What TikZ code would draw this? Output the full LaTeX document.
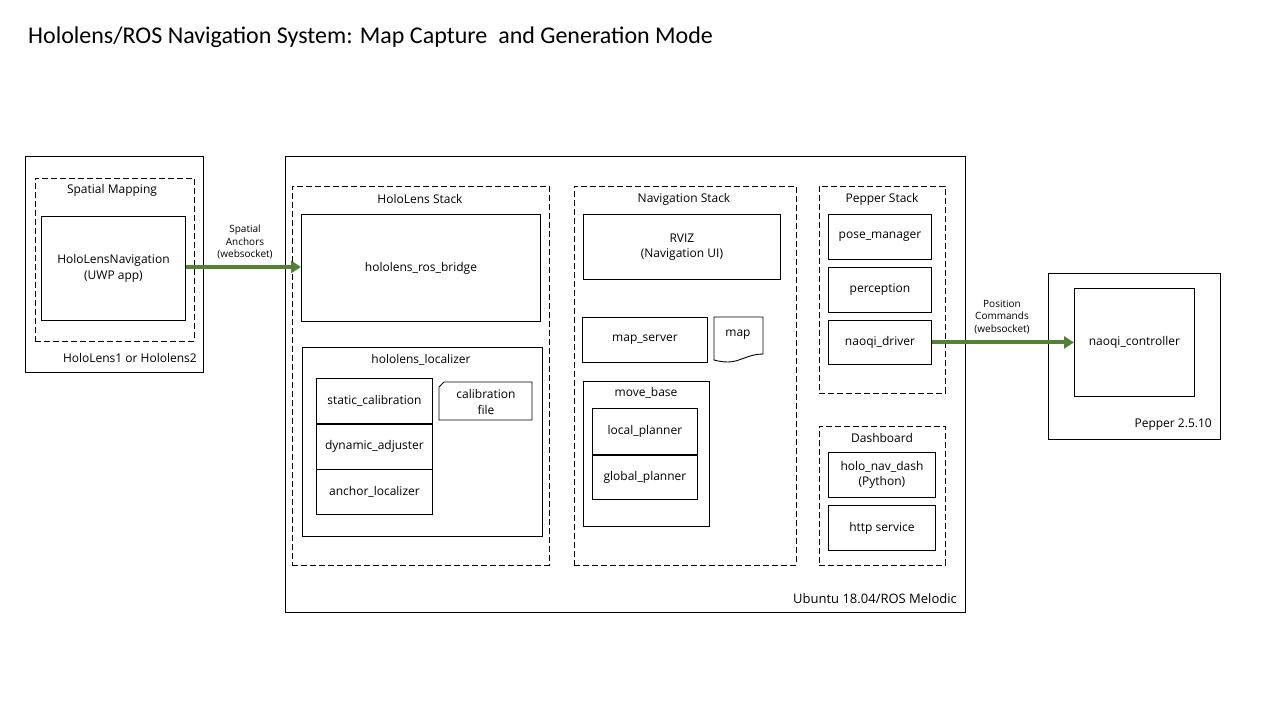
\documentclass[tikz,border=0pt]{standalone}
\usepackage{fontspec}
\setmainfont{Open Sans}
\newfontfamily\titlefont{Carlito}
\usetikzlibrary{arrows.meta}
\definecolor{arrowgreen}{HTML}{548235}
\tikzset{
  box/.style={draw=black, line width=0.9pt, fill=white, anchor=north west, inner sep=0pt, align=center, font=\fontsize{12}{15.5}\selectfont},
  dbox/.style={draw=black, line width=0.9pt, dash pattern=on 6pt off 3pt, anchor=north west, inner sep=0pt},
  lbl/.style={font=\fontsize{12}{15.5}\selectfont, inner sep=0pt, align=center},
  alb/.style={font=\fontsize{10}{12.5}\selectfont, inner sep=0pt, align=center},
  flow/.style={draw=arrowgreen, line width=4pt, -{Triangle[length=10pt,width=12pt]}},
}
\newcommand{\bx}[6][box]{\node[#1, minimum width=#4pt, minimum height=#5pt] (#2) at (#3) {#6};}
\begin{document}
\begin{tikzpicture}[x=1pt,y=-1pt]
\useasboundingbox (0,0) rectangle (1280,720);
\fill[white] (0,0) rectangle (1280,720);
\node[anchor=west, inner sep=0pt, font=\titlefont\fontsize{24}{28}\selectfont] (title) at (28,37) {Hololens/ROS Navigation System: Map Capture \ and Generation Mode};

% HoloLens device
\bx{hl}{25,156}{178}{216}{}
\bx[dbox]{sm}{35,178}{159}{163}{}
\node[lbl] (smt) at (112,190) {Spatial Mapping};
\bx{hln}{41,216}{144}{104}{HoloLensNavigation\\(UWP app)}
\node[lbl, anchor=east] (hlt) at (197,358) {HoloLens1 or Hololens2};

% Ubuntu
\bx{ub}{285,156}{680}{456}{}
\node[lbl, anchor=east, font=\fontsize{13}{16}\selectfont] (ubt) at (957,599) {Ubuntu 18.04/ROS Melodic};

% HoloLens stack
\bx[dbox]{hs}{292,186}{257}{379}{}
\node[lbl] (hst) at (420,199) {HoloLens Stack};
\bx{rb}{301,214}{239}{107}{hololens\_ros\_bridge}
\bx{loc}{302,347}{240}{189}{}
\node[lbl] (loct) at (421,360) {hololens\_localizer};
\bx{sc}{316,378}{116}{45}{static\_calibration}
\bx{da}{316,423}{116}{46}{dynamic\_adjuster}
\bx{al}{316,469}{116}{45}{anchor\_localizer}
\draw[line width=1.6pt] (sc.south west) -- (sc.south east);
\draw[line width=0.9pt, fill=white] (439+5,382) -- (532,382) -- (532,420) -- (439,420) -- (439,382+5) -- cycle;
\node[lbl] (cf) at (486,402) {calibration\\file};

% Navigation stack
\bx[dbox]{ns}{574,186}{222}{379}{}
\node[lbl] (nst) at (684,199) {Navigation Stack};
\bx{rviz}{583,214}{197}{65}{RVIZ\\(Navigation UI)}
\bx{ms}{582,317}{125}{45}{map\_server}
\draw[line width=0.9pt, fill=white] (714,317) -- (763,317) -- (763,354) .. controls (748,354) and (740,362) .. (728,362) .. controls (722,362) and (718,361) .. (714,360) -- cycle;
\node[lbl] (mapt) at (738,335) {map};
\bx{mb}{583,381}{126}{145}{}
\node[lbl] (mbt) at (646,393) {move\_base};
\bx{lp}{592,408}{105}{46}{local\_planner}
\bx{gp}{592,454}{105}{45}{global\_planner}
\draw[line width=1.6pt] (lp.south west) -- (lp.south east);

% Pepper stack
\bx[dbox]{ps}{819,186}{126}{207}{}
\node[lbl] (pst) at (882,199) {Pepper Stack};
\bx{pm}{828,214}{103}{45}{pose\_manager}
\bx{pc}{828,267}{103}{45}{perception}
\bx{nd}{828,320}{103}{44}{naoqi\_driver}

% Dashboard
\bx[dbox]{db}{819,426}{126}{139}{}
\node[lbl] (dbt) at (882,438) {Dashboard};
\bx{hnd}{828,452}{107}{45}{holo\_nav\_dash\\(Python)}
\bx{http}{828,505}{107}{45}{http service}

% Pepper
\bx{pep}{1048,273}{172}{166}{}
\bx{nc}{1074,288}{120}{108}{naoqi\_controller}
\node[lbl, anchor=east] (pept) at (1212,425) {Pepper 2.5.10};

% connectors
\draw[flow] (hln.east |- 0,267) -- (rb.west |- 0,267) coordinate (a1);
\node[alb] (a1l) at (245,242) {Spatial\\Anchors\\(websocket)};
\draw[flow] (nd.east) -- (nc.west |- nd.east);
\node[alb] (a2l) at (1002,317) {Position\\Commands\\(websocket)};
\end{tikzpicture}
\end{document}
